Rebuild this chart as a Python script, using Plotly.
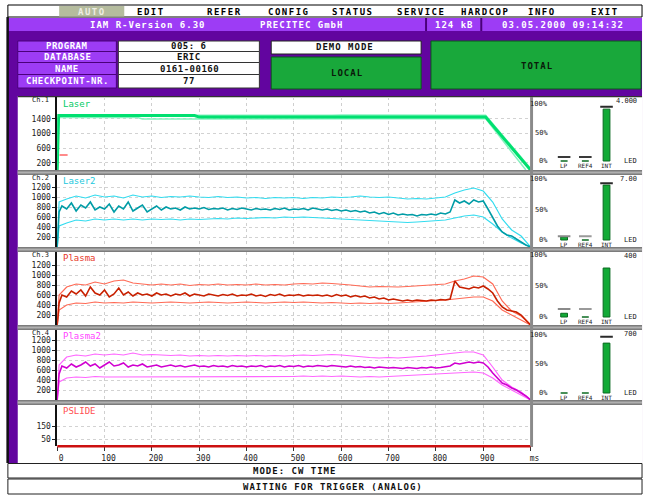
import plotly.graph_objects as go

W, H = 653, 495


def fx(x):
    return x / W


def fy(y):
    return 1 - y / H


FONT = "DejaVu Sans Mono"

# ---------------- data ----------------
MENU_ITEMS = ["AUTO", "EDIT", "REFER", "CONFIG", "STATUS", "SERVICE", "HARDCOP", "INFO", "EXIT"]
TITLE_TEXTS = ["IAM R-Version 6.30", "PRECITEC GmbH", "124 kB", "03.05.2000 09:14:32"]
INFO_LABELS = ["PROGRAM", "DATABASE", "NAME", "CHECKPOINT-NR."]
INFO_VALUES = ["005: 6", "ERIC", "0161-00160", "77"]
MODE_TEXT = "MODE: CW TIME"
STATUS_TEXT = "WAITING FOR TRIGGER (ANALOG)"

MS_TICKS = [0, 100, 200, 300, 400, 500, 600, 700, 800, 900, 1000]
MS_LABELS = ["0", "100", "200", "300", "400", "500", "600", "700", "800", "900", "ms"]

CHANNELS = ["Ch.1", "Ch.2", "Ch.3", "Ch.4"]
SERIES_NAMES = ["Laser", "Laser2", "Plasma", "Plasma2", "PSLIDE"]

LASER_TICKS = [200, 600, 1000, 1400]
PLASMA_TICKS = [200, 400, 600, 800, 1000, 1200]
PSLIDE_TICKS = [50, 150]

# time bases (ms)
t_fine = [0, 4] + list(range(10, 1001, 10))
t_coarse = [0, 4] + list(range(20, 1001, 20))

# Laser (panel 1)
laser_t = [0, 3, 290, 300, 905, 1000]
laser_main = [0, 1490, 1490, 1450, 1450, 0]
laser_up_t = [0, 3, 580, 600, 905, 1000]
laser_up = [0, 1500, 1500, 1510, 1500, 40]
laser_lo_t = [0, 3, 170, 180, 400, 905, 990]
laser_lo = [0, 1440, 1440, 1400, 1400, 1410, 0]
laser_ref_t = [5, 22]
laser_ref = [410, 410]

# Laser2 (panel 2)
laser2_main = [0, 700,
               820, 760, 880, 720, 840, 780, 900, 740, 800, 760,
               860, 700, 820, 760, 900, 720, 780, 840, 700, 760,
               820, 740, 800, 760, 780, 740, 800, 760, 780, 760,
               790, 750, 770, 760, 780, 740, 770, 750, 780, 760,
               740, 770, 750, 760, 740, 770, 750, 780, 740, 760,
               750, 770, 740, 780, 760, 740, 760, 730, 750, 720,
               740, 710, 730, 700, 720, 680, 700, 660, 690, 650,
               680, 640, 660, 640, 650, 620, 650, 640, 660, 640,
               680, 660, 700, 940, 880, 920, 860, 940, 900, 920,
               760, 600, 420, 300, 240, 220, 160, 100, 40, 0]
laser2_up = [0, 900,
             960, 1020, 980, 1040, 1000,
             1020, 980, 1040, 1000, 1020,
             990, 1010, 1000, 1020, 1000,
             990, 1010, 990, 1000, 980,
             990, 970, 990, 980, 990,
             970, 990, 980, 1000, 990,
             1000, 1020, 1000, 990, 1000,
             980, 960, 970, 960, 980,
             1000, 1080, 1140, 1180, 1120,
             900, 560, 340, 220, 0]
laser2_lo = [0, 420,
             480, 540, 520, 560, 540,
             560, 540, 560, 540, 560,
             550, 560, 540, 560, 550,
             560, 570, 560, 580, 570,
             580, 590, 580, 600, 590,
             600, 590, 580, 570, 560,
             540, 530, 520, 510, 500,
             500, 490, 500, 510, 520,
             540, 580, 620, 640, 600,
             460, 300, 180, 80, 0]

# Plasma (panel 3)
plasma_main = [0, 440,
               600, 560, 680, 620, 700, 580, 760, 640, 600, 700,
               560, 620, 740, 600, 660, 580, 640, 600, 620, 580,
               640, 600, 620, 580, 620, 600, 640, 580, 620, 600,
               580, 620, 600, 580, 610, 590, 620, 580, 600, 590,
               620, 580, 600, 570, 610, 590, 620, 580, 600, 590,
               610, 580, 600, 590, 600, 580, 600, 570, 610, 580,
               600, 560, 590, 560, 580, 540, 560, 520, 540, 500,
               520, 500, 480, 500, 480, 500, 490, 480, 500, 490,
               510, 500, 520, 880, 760, 740, 720, 760, 740, 780,
               720, 640, 480, 360, 300, 280, 260, 200, 100, 0]
plasma_up = [0, 600,
             760, 820, 800, 860, 820,
             880, 900, 840, 820, 800,
             820, 800, 820, 790, 810,
             800, 820, 800, 810, 800,
             820, 800, 810, 800, 820,
             830, 820, 840, 830, 820,
             800, 780, 760, 770, 760,
             760, 770, 780, 790, 800,
             820, 880, 920, 980, 960,
             820, 480, 280, 180, 0]
plasma_lo = [0, 300,
             400, 440, 430, 460, 440,
             450, 440, 460, 450, 440,
             450, 460, 450, 440, 450,
             460, 450, 440, 450, 460,
             450, 440, 450, 460, 450,
             460, 450, 440, 450, 440,
             430, 440, 430, 440, 430,
             440, 450, 460, 470, 480,
             500, 520, 540, 560, 560,
             480, 300, 200, 100, 0]

# Plasma2 (panel 4)
plasma2_main = [0, 520,
                680, 640, 720, 660, 700, 760, 680, 720, 640, 700,
                760, 680, 700, 740, 660, 700, 680, 720, 660, 680,
                700, 660, 680, 700, 670, 690, 660, 680, 700, 670,
                680, 660, 690, 670, 680, 660, 690, 670, 680, 660,
                680, 670, 690, 660, 680, 670, 690, 660, 680, 670,
                690, 660, 680, 670, 690, 680, 670, 690, 680, 670,
                660, 680, 660, 670, 650, 660, 640, 660, 650, 640,
                650, 640, 630, 650, 640, 630, 650, 640, 660, 640,
                650, 660, 680, 740, 720, 740, 760, 740, 760, 740,
                660, 540, 440, 340, 300, 240, 200, 140, 80, 0]
plasma2_up = [0, 700,
              860, 900, 880, 920, 900,
              920, 900, 940, 900, 910,
              900, 890, 900, 880, 890,
              880, 890, 880, 890, 880,
              890, 880, 890, 880, 890,
              900, 890, 900, 910, 900,
              880, 860, 850, 840, 850,
              840, 850, 860, 880, 900,
              920, 940, 960, 960, 900,
              660, 400, 260, 160, 0]
plasma2_lo = [0, 360,
              440, 460, 450, 470, 460,
              460, 470, 460, 470, 460,
              470, 460, 470, 460, 470,
              460, 470, 460, 470, 460,
              470, 460, 470, 460, 470,
              480, 470, 480, 470, 480,
              470, 460, 470, 460, 470,
              480, 490, 500, 510, 520,
              530, 540, 550, 560, 540,
              440, 300, 200, 100, 0]

# PSLIDE (panel 5)
pslide_t = [0, 1000]
pslide = [0, 0]

# side bar gauges (percent)
BAR_CATS = ["LP", "REF4", "INT"]
bars_laser = [0, 0, 91]
bars_laser2 = [5, 0, 90]
bars_plasma = [6, 0, 79]
bars_plasma2 = [0, 0, 86]
marks_laser = [7, 7, 95]
marks_laser2 = [6, 6, 93]
marks_plasma = [13, 13, None]
marks_plasma2 = [None, None, 97]
GAUGE_TOP = ["4.000", "7.00", "400", "700"]
GAUGE_UNIT = "LED"
PCT_LABELS = ["100%", "50%", "0%"]
PCT_VALUES = [100, 50, 0]

# ---------------- figure ----------------
fig = go.Figure()
shapes = []
annotations = []


def rect(x0, y0, x1, y1, fill, line=None, lw=1, layer="below"):
    d = dict(type="rect", xref="paper", yref="paper", x0=fx(x0), x1=fx(x1), y0=fy(y1), y1=fy(y0),
             fillcolor=fill, layer=layer, line=dict(width=0))
    if line:
        d["line"] = dict(color=line, width=lw)
    shapes.append(d)


def txt(x, y, s, size=10, color="black", xanchor="center", bold=True, spacing=None):
    if bold:
        s = f"<b>{s}</b>"
    if spacing:
        s = f"<span style='letter-spacing:{spacing}px'>{s}</span>"
    annotations.append(dict(x=fx(x), y=fy(y), xref="paper", yref="paper", text=s, showarrow=False,
                            xanchor=xanchor, yanchor="middle",
                            font=dict(family=FONT, size=size, color=color)))


PURPLE_DARK = "#62059f"
PURPLE_LIGHT = "#9d3cf5"
GREEN = "#19a83b"

# menu bar
rect(8, 5, 651, 17, "white", "black", 1)
rect(60, 6, 126, 16.5, "#b5bc9e")
menu_x = [93, 153, 228, 293, 358, 427, 492, 550, 613]
for s, x in zip(MENU_ITEMS, menu_x):
    txt(x, 11.5, s, size=9, color="#eeeee4" if s == "AUTO" else "black", spacing=1.5)

# title bar
rect(7, 18, 651, 31, PURPLE_LIGHT)
rect(431, 18, 433, 31, "#4a007a")
rect(487, 18, 489, 31, "#4a007a")
for s, x in zip(TITLE_TEXTS, [150, 306, 461, 571]):
    txt(x, 25, s, size=9, color="white", spacing=1)

# main purple area
rect(7, 31, 651, 463, PURPLE_DARK)
rect(6.5, 17, 9, 463, "#111111")

# info table
rows = [(41, 51.5), (51.5, 62.5), (62.5, 74.5), (74.5, 88)]
for (y0, y1), lab, val in zip(rows, INFO_LABELS, INFO_VALUES):
    rect(18, y0, 118, y1, PURPLE_LIGHT, "#4a007a", 1)
    rect(120, y0, 263, y1, "white", "#333333", 1)
    txt(68, (y0 + y1) / 2, lab, size=9, color="white", spacing=0.5)
    txt(192, (y0 + y1) / 2, val, size=9, color="#111", spacing=0.5)

rect(275, 41, 427, 54, "white", "#222", 1)
txt(350, 47.5, "DEMO MODE", size=9, color="#111", spacing=1)
rect(275, 57, 427, 89, GREEN, "#0a5a1a", 1)
txt(352, 73, "LOCAL", size=9, color="#0a1a0a", spacing=1)
rect(437, 41, 650, 89, GREEN, "#0a5a1a", 1)
txt(545, 66, "TOTAL", size=9, color="#0a1a0a", spacing=1)

# panel area background
rect(18, 96, 651, 463, "white")
rect(18, 96, 651, 97.2, "#333333")

# bottom status bars
rect(8, 463.5, 651, 478, "white", "#222", 1)
rect(8, 479, 651, 494, "white", "#222", 1)
txt(299, 471, MODE_TEXT, size=9, color="#111", spacing=1)
txt(338, 487, STATUS_TEXT, size=9, color="#111", spacing=1)

# ---------------- chart panels ----------------
panel_px = [(97, 170), (175, 247), (252, 325), (330, 400), (405, 446)]
panel_ranges = [[0, 2000], [0, 1440], [0, 1460], [0, 1400], [0, 310]]
panel_ticks = [LASER_TICKS, PLASMA_TICKS, PLASMA_TICKS, PLASMA_TICKS, PSLIDE_TICKS]
PX_L, PX_R = 58, 538

layout = dict(width=W, height=H, margin=dict(l=0, r=0, t=0, b=0),
              paper_bgcolor="white", plot_bgcolor="rgba(0,0,0,0)", showlegend=False)

for i, ((top, bot), rng, tv) in enumerate(zip(panel_px, panel_ranges, panel_ticks)):
    n = i + 1
    layout[f"xaxis{n}"] = dict(domain=[fx(PX_L), fx(PX_R)], range=[0, 1000], anchor=f"y{n}",
                               tickvals=MS_TICKS, ticktext=MS_LABELS, showticklabels=(n == 5),
                               ticks="outside" if n == 5 else "", ticklen=4, tickcolor="#333",
                               showgrid=True, gridcolor="#cfcfcf", griddash="dot", gridwidth=1,
                               zeroline=False, showline=False, ticklabelshift=4,
                               tickfont=dict(family=FONT, size=8, color="#222"), fixedrange=True)
    layout[f"yaxis{n}"] = dict(domain=[fy(bot), fy(top)], range=rng, anchor=f"x{n}", tickvals=tv,
                               ticks="outside", ticklen=3, tickcolor="#222", showline=True,
                               linecolor="#111", linewidth=1.5, showgrid=True, gridcolor="#d2d2d2",
                               griddash="dot", gridwidth=1, zeroline=False,
                               tickfont=dict(family=FONT, size=8, color="#222"), fixedrange=True)


def line(n, x, y, color, width):
    fig.add_trace(go.Scatter(x=x, y=y, mode="lines", xaxis=f"x{n}", yaxis=f"y{n}",
                             line=dict(color=color, width=width), hoverinfo="skip"))


# Laser
line(1, laser_up_t, laser_up, "#86f2c0", 1.5)
line(1, laser_lo_t, laser_lo, "#86f2c0", 1.5)
line(1, laser_t, laser_main, "#00e070", 3)
line(1, laser_ref_t, laser_ref, "#ff8a8a", 2)
# Laser2
line(2, t_coarse, laser2_up, "#33dcef", 1.2)
line(2, t_coarse, laser2_lo, "#33dcef", 1.2)
line(2, t_fine, laser2_main, "#009ca6", 1.6)
# Plasma
line(3, t_coarse, plasma_up, "#ff6a55", 1.2)
line(3, t_coarse, plasma_lo, "#ff6a55", 1.2)
line(3, t_fine, plasma_main, "#c82000", 1.6)
# Plasma2
line(4, t_coarse, plasma2_up, "#ff66ff", 1.2)
line(4, t_coarse, plasma2_lo, "#ff66ff", 1.2)
line(4, t_fine, plasma2_main, "#d000d0", 1.6)
# PSLIDE
line(5, pslide_t, pslide, "#cc1010", 2)

series_colors = ["#00cc66", "#22c8dd", "#e83a2a", "#ff44ff", "#ff5050"]
name_y = [104, 181, 258, 336, 411]
for s, c, y in zip(SERIES_NAMES, series_colors, name_y):
    txt(62, y, s, size=9, color=c, xanchor="left", bold=False)

for s, (top, bot) in zip(CHANNELS, panel_px[:4]):
    txt(41, top + 3, s, size=7, color="#222", bold=False)

# gray separators / frame
for y0, y1 in [(170, 175), (247, 252), (325, 330), (400, 405)]:
    rect(18, y0, 651, y1, "#7c7c7c", layer="above")
    rect(18, y0 + 1.6, 651, y1 - 1.6, "#b0b0b0", layer="above")
rect(537.5, 97, 540.5, 447, "#8a8a8a", layer="above")
rect(58, 446, 538, 447.5, "#cc1010", layer="above")

# ---------------- side gauges ----------------
gauge_px = [(97, 170, 104, 161), (175, 247, 179, 240), (252, 325, 255, 317), (330, 400, 335, 393)]
bars_all = [bars_laser, bars_laser2, bars_plasma, bars_plasma2]
marks_all = [marks_laser, marks_laser2, marks_plasma, marks_plasma2]
GX_L, GX_R = 541, 650
cat0_px, cat_step = 572, 21.5
for k, ((top, bot, p100, p0), bvals, mvals, tlab) in enumerate(zip(gauge_px, bars_all, marks_all, GAUGE_TOP)):
    n = 6 + k
    span = p0 - p100
    yr = [-(bot - p0) / span * 100, (p0 - top) / span * 100]
    xr = [-(cat0_px - GX_L) / cat_step, (GX_R - cat0_px) / cat_step]
    layout[f"xaxis{n}"] = dict(domain=[fx(GX_L), fx(GX_R)], type="category",
                               categoryorder="array", categoryarray=BAR_CATS, range=xr,
                               anchor=f"y{n}", showticklabels=False, showgrid=False,
                               zeroline=False, showline=False, ticks="", fixedrange=True)
    layout[f"yaxis{n}"] = dict(domain=[fy(bot), fy(top)], range=yr, anchor=f"x{n}",
                               visible=False, fixedrange=True)
    fig.add_trace(go.Bar(x=BAR_CATS, y=bvals, xaxis=f"x{n}", yaxis=f"y{n}", width=0.32,
                         marker=dict(color="#12aa36", line=dict(color="#0a6a20", width=1)),
                         hoverinfo="skip"))
    mcol = ["#8a8a8a", "#9a9a9a", "#2a2a2a"] if k else ["#3a3a3a", "#3a3a3a", "#2a2a2a"]
    fig.add_trace(go.Scatter(x=BAR_CATS, y=mvals, xaxis=f"x{n}", yaxis=f"y{n}", mode="markers",
                             marker=dict(symbol="line-ew-open", size=9, color=mcol,
                                         line=dict(width=2, color=mcol)),
                             hoverinfo="skip"))
    for lab, v in zip(PCT_LABELS, PCT_VALUES):
        annotations.append(dict(x=fx(558), xref="paper", y=v, yref=f"y{n}", text=lab,
                                showarrow=False, xanchor="right", yanchor="middle",
                                font=dict(family=FONT, size=7, color="#222")))
    for c in BAR_CATS:
        annotations.append(dict(x=c, xref=f"x{n}", y=0, yref=f"y{n}", text=c, showarrow=False,
                                xanchor="center", yanchor="top", yshift=1,
                                font=dict(family=FONT, size=6, color="#222")))
    annotations.append(dict(x=fx(648), xref="paper", y=0, yref=f"y{n}", text=GAUGE_UNIT,
                            showarrow=False, xanchor="right", yanchor="middle",
                            font=dict(family=FONT, size=7, color="#222")))
    annotations.append(dict(x=fx(648), xref="paper", y=fy(top + 4), yref="paper", text=tlab,
                            showarrow=False, xanchor="right", yanchor="middle",
                            font=dict(family=FONT, size=7, color="#222")))

layout["shapes"] = shapes
layout["annotations"] = annotations
fig.update_layout(**layout)

fig.write_html("out.html", config={"displayModeBar": False},
               post_script="document.body.style.margin='0';")
